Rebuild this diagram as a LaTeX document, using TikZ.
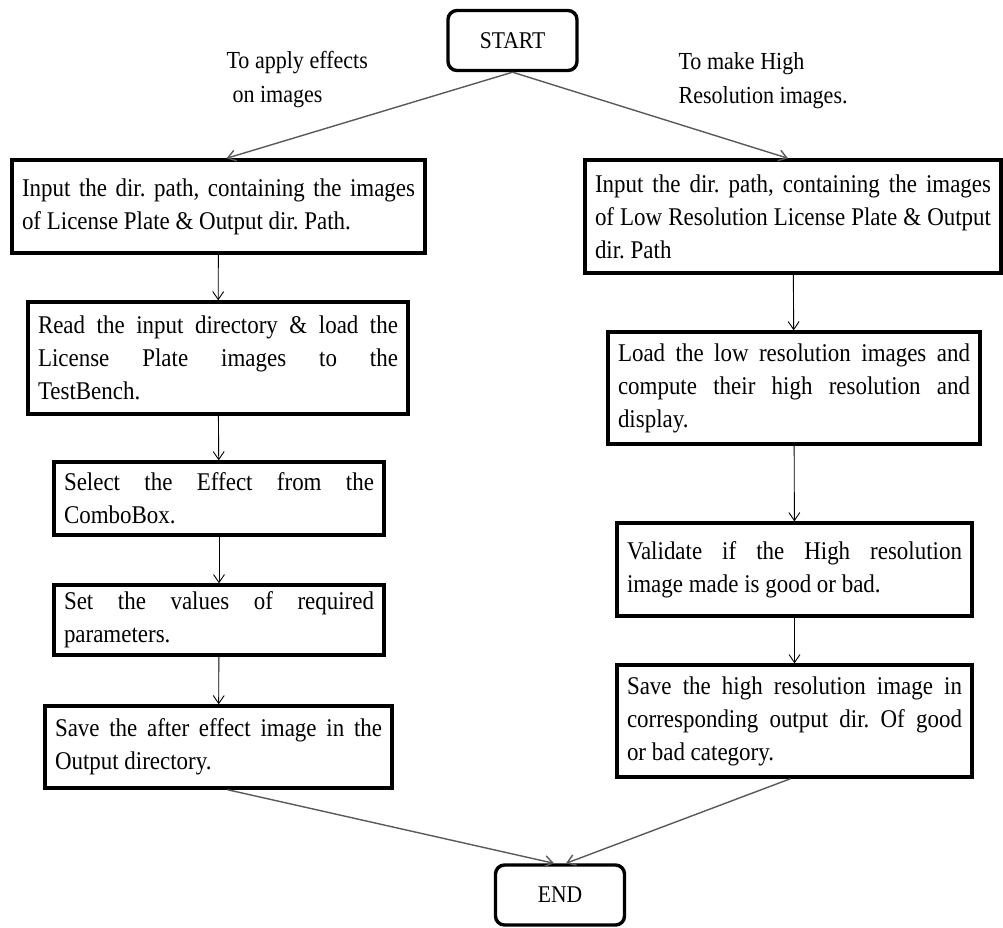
\documentclass[tikz,border=0pt]{standalone}
\usepackage{fontspec}
\setmainfont[FakeStretch=0.9]{Liberation Serif}
\usetikzlibrary{arrows.meta,positioning}

\begin{document}
\begin{tikzpicture}[x=1pt,y=-1pt,
    process/.style={draw, line width=3.4pt, rectangle, inner xsep=10pt, inner ysep=2pt,
        align=justify, font=\fontsize{25.5}{33}\selectfont\frenchspacing},
    terminal/.style={draw, line width=3.4pt, rounded corners=9pt, minimum width=129pt,
        minimum height=60pt, font=\fontsize{24}{26}\selectfont},
    flow/.style={-{Straight Barb[length=8pt,width=11pt]}, line width=0.9pt},
    branch/.style={flow, draw=black!65, line width=1.4pt},
    note/.style={align=left, anchor=west, font=\fontsize{24.5}{34}\selectfont}]
    \useasboundingbox (0,0) rectangle (1003,927);

    % Start and the two choices
    \node[terminal] (start) at (512.5,40.5) {START};
    \node[note] (effnote) at (223,80) {To apply effects\\\hspace*{6pt}on images};
    \node[note] (hrnote) at (675,81) {To make High\\Resolution images.};

    % Left branch: effects on images
    \node[process, text width=393pt, minimum height=93pt] (effpath) at (218.5,206.5)
        {Input the dir. path, containing the images\linebreak of License Plate \& Output dir. Path.};
    \node[process, text width=360pt, minimum height=112pt] (readdir) at (218,358)
        {Read the input directory \& load the\linebreak License Plate images to the\linebreak TestBench.};
    \node[process, text width=310pt, minimum height=73pt] (effect) at (219,498.5)
        {Select the Effect from the\linebreak ComboBox.};
    \node[process, text width=310pt, minimum height=70pt] (params) at (219,620)
        {Set the values of required\linebreak parameters.};
    \node[process, text width=327pt, minimum height=82pt] (saveeff) at (218.5,747)
        {Save the after effect image in the\linebreak Output directory.};

    % Right branch: high resolution images
    \node[process, text width=396pt, minimum height=113pt] (hrpath) at (793,216.5)
        {Input the dir. path, containing the images\linebreak of Low Resolution License Plate \& Output\linebreak dir. Path};
    \node[process, text width=352pt, minimum height=112pt] (loadlr) at (794,388)
        {Load the low resolution images and\linebreak compute their high resolution and\linebreak display.};
    \node[process, text width=335pt, minimum height=93pt] (validate) at (794.5,569.5)
        {Validate if the High resolution\linebreak image made is good or bad.};
    \node[process, text width=335pt, minimum height=112pt] (savehr) at (794.5,721)
        {Save the high resolution image in\linebreak corresponding output dir. Of good\linebreak or bad category.};

    % End
    \node[terminal] (finish) at (560,895) {END};

    % Connectors
    \draw[branch] (start.south) -- ([xshift=8pt]effpath.north);
    \draw[branch] (start.south) -- ([xshift=-5pt]hrpath.north);
    \draw[flow] (effpath) -- (readdir);
    \draw[flow] (readdir) -- (effect);
    \draw[flow] (effect) -- (params);
    \draw[flow] (params) -- (saveeff);
    \draw[flow] (hrpath) -- (loadlr);
    \draw[flow] (loadlr) -- (validate);
    \draw[flow] (validate) -- (savehr);
    \draw[branch] ([xshift=9pt]saveeff.south) -- ([xshift=-6pt]finish.north);
    \draw[branch] ([xshift=-4pt]savehr.south) -- ([xshift=6pt]finish.north);
\end{tikzpicture}
\end{document}
